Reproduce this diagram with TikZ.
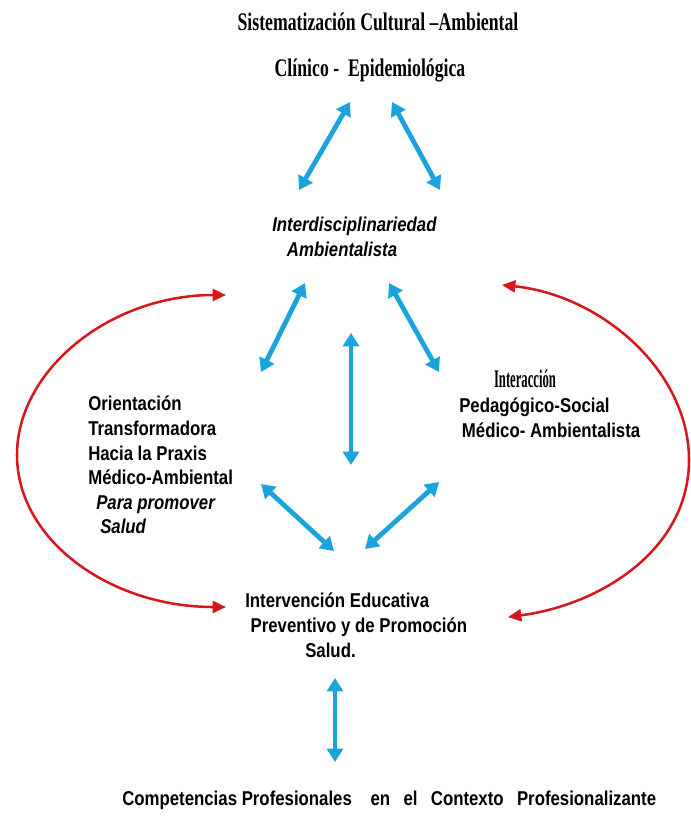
\documentclass[tikz,border=0pt]{standalone}
\usepackage{fontspec}
\setmainfont{Liberation Sans}
\newfontfamily\narrowsans{Liberation Sans}[FakeStretch=0.84]
\newfontfamily\narrowserif{Liberation Serif}[FakeStretch=0.7]
\newfontfamily\tightserif{Liberation Serif}[FakeStretch=0.5]
\usetikzlibrary{arrows.meta}
\definecolor{bluearr}{RGB}{27,163,220}
\definecolor{redarr}{RGB}{214,24,28}
\begin{document}
\begin{tikzpicture}[x=0.75pt,y=-0.75pt,
  sanstext/.style={inner sep=0pt,font=\narrowsans\bfseries\fontsize{15}{18.4}\selectfont},
  seriftext/.style={inner sep=0pt,font=\narrowserif\bfseries\fontsize{19}{22}\selectfont},
  bluelink/.style={draw=bluearr,line width=3.6pt,{Triangle[width=12pt,length=10pt]}-{Triangle[width=12pt,length=10pt]}},
  redlink/.style={draw=redarr,line width=1.9pt,{Triangle[width=9pt,length=10pt]}-{Triangle[width=9pt,length=10pt]}}]
\useasboundingbox (0,0) rectangle (691,821);
% texts
\node[seriftext] (sist) at (378,22) {Sistematización Cultural –Ambiental};
\node[seriftext] (clin) at (370,70) {Clínico -\ \ Epidemiológica};
\node[sanstext,font=\narrowsans\bfseries\itshape\fontsize{15}{18.4}\selectfont,align=left,anchor=north west] (inter) at (272,217) {Interdisciplinariedad\\\hspace{11pt}Ambientalista};
\node[sanstext,align=left,anchor=north west] (orient) at (88,396) {Orientación\\Transformadora\\Hacia la Praxis\\Médico-Ambiental\\\hspace{6pt}\itshape Para promover\\\hspace{9pt}\itshape Salud};
\node[inner sep=0pt,font=\tightserif\bfseries\fontsize{19}{20}\selectfont] (interac) at (525,379) {Interacción};
\node[sanstext,align=left,anchor=north west] (peda) at (459,398) {Pedagógico-Social\\\hspace{2pt}Médico- Ambientalista};
\node[sanstext,align=left,anchor=north west] (interv) at (245,593) {Intervención Educativa\\\hspace{4pt}Preventivo y de Promoción\\\hspace{45pt}Salud.};
\node[sanstext,anchor=west] (comp) at (122,800) {Competencias Profesionales\hspace{14pt}en\hspace{10pt}el\hspace{10pt}Contexto\hspace{10pt}Profesionalizante};
% arrow end points
\coordinate (a1s) at (299,190); \coordinate (a1e) at (350,102);
\coordinate (a2s) at (392,102); \coordinate (a2e) at (440,190);
\coordinate (a3s) at (305,283); \coordinate (a3e) at (261,372);
\coordinate (a4s) at (389,283); \coordinate (a4e) at (439,372);
\coordinate (a5s) at (351,333); \coordinate (a5e) at (351,465);
\coordinate (a6s) at (261,484); \coordinate (a6e) at (334,551);
\coordinate (a7s) at (439,482); \coordinate (a7e) at (365,549);
\coordinate (a8s) at (335,678); \coordinate (a8e) at (335,762);
\draw[bluelink] (a1s) -- (a1e);
\draw[bluelink] (a2s) -- (a2e);
\draw[bluelink] (a3s) -- (a3e);
\draw[bluelink] (a4s) -- (a4e);
\draw[bluelink] (a5s) -- (a5e);
\draw[bluelink] (a6s) -- (a6e);
\draw[bluelink] (a7s) -- (a7e);
\draw[bluelink] (a8s) -- (a8e);
% red arcs
\coordinate (lmid) at (17,455);
\coordinate (ltop) at (226,295);
\coordinate (lbot) at (226,607);
\draw[redlink]
  (ltop) .. controls (110,295) and (17,370) .. (lmid)
  .. controls (17,540) and (110,607) .. (lbot);
\coordinate (rtop) at (502,285);
\coordinate (rmid) at (689,460);
\coordinate (rbot) at (508,617);
\draw[redlink]
  (rtop) .. controls (600,295) and (689,370) .. (rmid)
  .. controls (689,550) and (600,605) .. (rbot);
\end{tikzpicture}
\end{document}
